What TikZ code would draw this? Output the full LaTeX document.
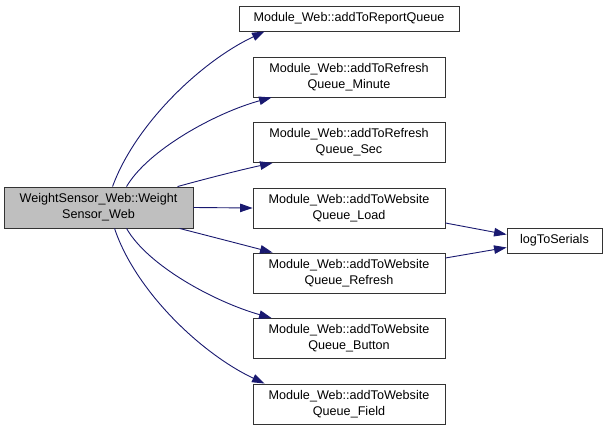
\documentclass[tikz,border=0pt]{standalone}
\usepackage{fontspec}
\setmainfont{Liberation Sans}
\usetikzlibrary{arrows.meta,calc}
\definecolor{edgeblue}{HTML}{191970}
\definecolor{rootgrey}{HTML}{BFBFBF}
\tikzset{
  box/.style={draw=black!80, line width=0.9pt, fill=white, inner sep=0pt, align=center,
    font=\fontsize{12.6}{16}\selectfont},
  twoline/.style={box, minimum width=192pt, minimum height=40pt},
  edge/.style={draw=edgeblue, line width=0.9pt, -{Triangle[length=12.5pt,width=8.5pt]}},
}
\begin{document}
\begin{tikzpicture}[x=1pt,y=-1pt]
\fill[white] (0,0) rectangle (607,430);
\useasboundingbox (0,0) rectangle (607,430);

\node[box, fill=rootgrey, minimum width=189pt, minimum height=41pt] (root) at (98.5,207.5)
  {WeightSensor\_Web::Weight\\Sensor\_Web};
\node[box, minimum width=220pt, minimum height=25pt] (A) at (349,18.5) {Module\_Web::addToReportQueue};
\node[twoline] (B) at (349,77) {Module\_Web::addToRefresh\\Queue\_Minute};
\node[twoline] (C) at (349,142.5) {Module\_Web::addToRefresh\\Queue\_Sec};
\node[twoline] (D) at (349,208) {Module\_Web::addToWebsite\\Queue\_Load};
\node[twoline] (E) at (349,273) {Module\_Web::addToWebsite\\Queue\_Refresh};
\node[twoline] (F) at (349,338.5) {Module\_Web::addToWebsite\\Queue\_Button};
\node[twoline] (G) at (349,404) {Module\_Web::addToWebsite\\Queue\_Field};
\node[box, minimum width=95pt, minimum height=25pt] (L) at (554.5,240.5) {logToSerials};

\draw[edge] ($(root.north west)+(109,0)$) .. controls (135,125) and (200,62) .. ($(A.south west)+(26,0)$);
\draw[edge] ($(root.north west)+(123,0)$) .. controls (148,150) and (215,113) .. ($(B.south west)+(19,0)$);
\draw[edge] ($(root.north west)+(174,0)$) .. controls (205,179) and (240,170) .. ($(C.south west)+(20,0)$);
\draw[edge] (root.east) -- (D.west);
\draw[edge] ($(root.south west)+(176,0)$) .. controls (205,235) and (240,244) .. ($(E.north west)+(20,0)$);
\draw[edge] ($(root.south west)+(123,0)$) .. controls (148,266) and (215,302) .. ($(F.north west)+(19,0)$);
\draw[edge] ($(root.south west)+(111,0)$) .. controls (135,290) and (200,353) .. ($(G.north west)+(12,0)$);
\draw[edge] ($(D.east)+(0,15)$) -- ($(L.west)+(0,-6)$);
\draw[edge] ($(E.east)+(0,-15)$) -- ($(L.west)+(0,7)$);
\end{tikzpicture}
\end{document}
